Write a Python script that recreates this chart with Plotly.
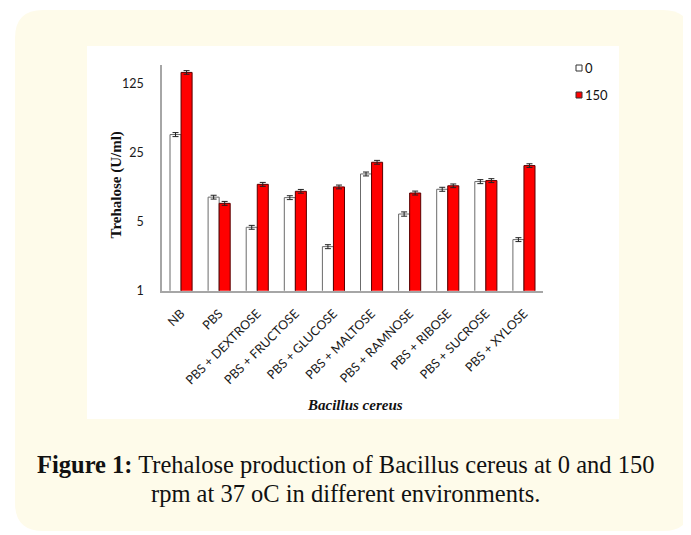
import plotly.graph_objects as go

categories = ["NB", "PBS", "PBS + DEXTROSE", "PBS + FRUCTOSE", "PBS + GLUCOSE",
              "PBS + MALTOSE", "PBS + RAMNOSE", "PBS + RIBOSE", "PBS + SUCROSE", "PBS + XYLOSE"]
rpm0 = [38.4, 8.9, 4.4, 8.8, 2.8, 15.3, 6.0, 10.7, 12.8, 3.3]
rpm150 = [164, 7.7, 12.0, 10.2, 11.3, 20.1, 9.8, 11.6, 13.1, 18.6]
err0 = [1.8, 0.4, 0.2, 0.4, 0.13, 0.7, 0.3, 0.5, 0.6, 0.15]
err150 = [7, 0.35, 0.55, 0.45, 0.5, 0.9, 0.45, 0.5, 0.6, 0.8]
ytick_vals = [1, 5, 25, 125]
ytick_text = ["1", "5", "25", "125"]
series_names = ["0", "150"]

O = 8  # page body margin
W, H = 691 - O, 535 - O
def px(x): return (x - O) / W
def py(y): return 1 - (y - O) / H

fill0, line0 = "white", "#6b6b6b"
fill1, line1 = "#ff0000", "#5a0000"

fig = go.Figure()
fig.add_trace(go.Bar(
    x=categories, y=rpm0, name=series_names[0],
    marker=dict(color=fill0, line=dict(color=line0, width=1)),
    error_y=dict(type="data", array=err0, color="#222", thickness=1, width=3),
))
fig.add_trace(go.Bar(
    x=categories, y=rpm150, name=series_names[1],
    marker=dict(color=fill1, line=dict(color=line1, width=1)),
    error_y=dict(type="data", array=err150, color="#222", thickness=1, width=3),
))

# background rounded panel
x0, x1, y0, y1, r = 15, 691, 10, 531, 28
path = (f"M {px(x0+r)},{py(y0)} L {px(x1-r)},{py(y0)} Q {px(x1)},{py(y0)} {px(x1)},{py(y0+r)} "
        f"L {px(x1)},{py(y1-r)} Q {px(x1)},{py(y1)} {px(x1-r)},{py(y1)} "
        f"L {px(x0+r)},{py(y1)} Q {px(x0)},{py(y1)} {px(x0)},{py(y1-r)} "
        f"L {px(x0)},{py(y0+r)} Q {px(x0)},{py(y0)} {px(x0+r)},{py(y0)} Z")
shapes = [
    dict(type="path", xref="paper", yref="paper", path=path, fillcolor="#fefbea",
         line=dict(width=0), layer="below"),
    dict(type="rect", xref="paper", yref="paper", x0=px(87), x1=px(619), y0=py(419), y1=py(46),
         fillcolor="white", line=dict(width=0), layer="below"),
    # legend swatches
    dict(type="rect", xref="paper", yref="paper", x0=px(576), x1=px(582), y0=py(71), y1=py(65),
         fillcolor=fill0, line=dict(color="#333", width=1)),
    dict(type="rect", xref="paper", yref="paper", x0=px(576), x1=px(582), y0=py(98), y1=py(92),
         fillcolor=fill1, line=dict(color="#333", width=1)),
]

def ann(text, x, y, size, family="Lato", **kw):
    d = dict(text=text, x=px(x), y=py(y), xref="paper", yref="paper", showarrow=False,
             yanchor="middle", font=dict(family=family, size=size, color="#111"))
    d.update(kw)
    return d

annotations = [
    ann(series_names[0], 583, 68, 13, xanchor="left"),
    ann(series_names[1], 583, 95, 13, xanchor="left"),
    ann("<b>Trehalose (U/ml)</b>", 105, 185, 15, "Liberation Serif", textangle=-90),
    ann("<b><i>Bacillus cereus</i></b>", 355, 405, 15, "Liberation Serif"),
    ann("<b>Figure 1:</b> Trehalose production of Bacillus cereus at 0 and 150",
        345, 464, 24.5, "Liberation Serif"),
    ann("rpm at 37 oC in different environments.", 345, 493, 24.5, "Liberation Serif"),
]

fig.update_layout(
    width=W, height=H,
    margin=dict(l=0, r=0, t=0, b=0),
    paper_bgcolor="white", plot_bgcolor="rgba(0,0,0,0)",
    barmode="group", bargap=0.42, bargroupgap=0,
    shapes=shapes, annotations=annotations,
    showlegend=False,
    font=dict(family="Lato", size=12, color="#222"),
    xaxis=dict(domain=[px(162), px(543)], showline=True, linecolor="#a6a6a6", linewidth=1.5,
               ticks="", tickangle=-45, tickfont=dict(family="Lato", size=12.5, color="#1a1a1a"),
               ticklabelstandoff=9, showgrid=False, automargin=False),
    yaxis=dict(domain=[py(290.7), py(65)], type="log", range=[0, 2.29],
               tickvals=ytick_vals, ticktext=ytick_text, showline=True, linecolor="#a6a6a6",
               linewidth=1.5, ticks="", showgrid=False, zeroline=False, ticklabelstandoff=14,
               tickfont=dict(family="Lato", size=12.5, color="#1a1a1a"), automargin=False),
)
fig.write_html("out.html")
